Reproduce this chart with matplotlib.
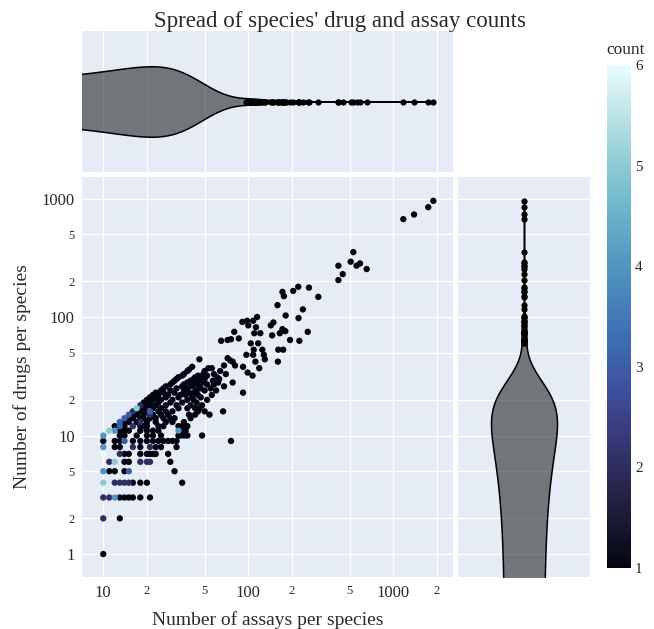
import numpy as np
import matplotlib
matplotlib.use("Agg")
import matplotlib.pyplot as plt
from matplotlib.colors import LinearSegmentedColormap, Normalize
from matplotlib.cm import ScalarMappable
from matplotlib.ticker import FixedLocator, FixedFormatter

# ---------------- data ----------------
assays = [
    10,
    10, 13,
    10, 11, 12, 13, 14, 15, 16, 18, 21,
    10, 12, 13, 14, 15, 16, 18, 20, 35,
    10, 11, 12, 14, 15, 31,
    11, 12, 14, 15, 18, 20, 21, 29,
    10, 13, 14, 15, 18, 20, 21, 22, 23, 28,
    10, 12, 13, 16, 18, 21, 23, 25, 32,
    10, 12, 13, 14, 16, 18, 20, 22, 24, 26, 28, 30, 32, 76,
    10, 13, 14, 17, 20, 22, 25, 33, 34, 36, 38, 48,
    11, 12, 13, 14, 15, 18, 20, 22, 24, 33, 35, 37,
    12, 13, 14, 16, 18, 19, 20, 24, 26, 33, 35, 38,
    13, 14, 15, 17, 18, 20, 23, 27, 30, 36,
    14, 15, 16, 18, 19, 21, 23, 26, 29, 31, 40,
    15, 16, 17, 19, 21, 22, 25, 28, 39, 43, 54,
    16, 17, 18, 20, 21, 24, 27, 30, 45, 50, 67,
    17, 18, 19, 22, 25, 33, 38, 43, 46,
    18, 19, 20, 21, 23, 27, 32, 40, 48,
    19, 21, 24, 29, 35, 44,
    20, 22, 25, 30, 38, 42, 52,
    21, 23, 27, 33, 41, 47,
    22, 24, 28, 34, 37, 45, 56,
    23, 26, 31, 39, 42, 92,
    25, 29, 36, 44, 50, 60,
    26, 32, 38, 47, 55,
    27, 35, 41, 46, 68,
    29, 36, 43, 52, 58,
    30, 38, 49, 62, 78,
    31, 40, 45, 57,
    32, 42, 50, 63,
    33, 43, 48, 61,
    35, 45, 52, 107,
    36, 49, 58, 70,
    99, 38, 50, 64,
    39, 53, 56, 119, 41, 92, 68, 81, 78, 112, 160, 75, 46, 130, 72,
    97, 108, 128, 109, 125, 161, 174, 104, 117, 65, 225, 72, 194, 76, 86,
    146, 110, 121, 165, 80, 257, 180, 172, 113, 100, 143, 149, 91, 98, 108,
    222, 115, 181, 238, 159, 304, 176, 172, 204, 262, 221,
    418, 448, 655, 418, 558, 589, 508, 530,
    1172, 1390, 1742, 1888,
]
drugs = [
    1,
    2, 2,
    3, 3, 3, 3, 3, 3, 3, 3, 3,
    4, 4, 4, 4, 4, 4, 4, 4, 4,
    5, 5, 5, 5, 5, 5,
    6, 6, 6, 6, 6, 6, 6, 6,
    7, 7, 7, 7, 7, 7, 7, 7, 7, 7,
    8, 8, 8, 8, 8, 8, 8, 8, 8,
    9, 9, 9, 9, 9, 9, 9, 9, 9, 9, 9, 9, 9, 9,
    10, 10, 10, 10, 10, 10, 10, 10, 10, 10, 10, 10,
    11, 11, 11, 11, 11, 11, 11, 11, 11, 11, 11, 11,
    12, 12, 12, 12, 12, 12, 12, 12, 12, 12, 12, 12,
    13, 13, 13, 13, 13, 13, 13, 13, 13, 13,
    14, 14, 14, 14, 14, 14, 14, 14, 14, 14, 14,
    15, 15, 15, 15, 15, 15, 15, 15, 15, 15, 15,
    16, 16, 16, 16, 16, 16, 16, 16, 16, 16, 16,
    17, 17, 17, 17, 17, 17, 17, 17, 17,
    18, 18, 18, 18, 18, 18, 18, 18, 18,
    19, 19, 19, 19, 19, 19,
    20, 20, 20, 20, 20, 20, 20,
    21, 21, 21, 21, 21, 21,
    22, 22, 22, 22, 22, 22, 22,
    23, 23, 23, 23, 23, 23,
    24, 24, 24, 24, 24, 24,
    25, 25, 25, 25, 25,
    26, 26, 26, 26, 26,
    27, 27, 27, 27, 27,
    28, 28, 28, 28, 28,
    29, 29, 29, 29,
    30, 30, 30, 30,
    31, 31, 31, 31,
    32, 32, 32, 32,
    33, 33, 33, 33,
    34, 35, 35, 35,
    36, 37, 37, 37, 38, 38, 39, 39, 42, 42, 42, 43, 44, 44, 45,
    48, 48, 48, 53, 53, 53, 53, 60, 60, 63, 63, 64, 64, 65, 66,
    70, 73, 73, 73, 75, 75, 76, 79, 82, 85, 85, 90, 91, 93, 93,
    98, 100, 103, 116, 126, 148, 150, 163, 166, 177, 180,
    205, 230, 254, 271, 271, 283, 293, 353,
    670, 733, 845, 956,
]
counts = [
    1,
    2, 1,
    2, 2, 4, 1, 1, 1, 1, 1, 1,
    5, 2, 2, 2, 2, 1, 1, 1, 1,
    4, 1, 1, 1, 3, 1,
    2, 5, 1, 1, 2, 2, 2, 1,
    6, 2, 1, 1, 1, 1, 1, 1, 1, 1,
    4, 1, 1, 2, 1, 2, 1, 1, 1,
    1, 1, 1, 3, 1, 1, 1, 1, 1, 1, 1, 1, 1, 1,
    4, 1, 1, 1, 1, 1, 1, 1, 1, 1, 1, 1,
    5, 4, 1, 1, 1, 1, 1, 1, 1, 4, 1, 1,
    1, 3, 1, 2, 1, 1, 1, 1, 1, 1, 1, 1,
    3, 1, 1, 1, 2, 1, 1, 1, 1, 1,
    3, 1, 1, 1, 1, 1, 1, 1, 1, 1, 1,
    3, 1, 1, 1, 2, 1, 1, 1, 1, 1, 1,
    2, 1, 1, 1, 3, 1, 1, 1, 1, 1, 1,
    5, 1, 1, 1, 1, 1, 1, 1, 1,
    2, 1, 1, 1, 1, 1, 1, 1, 1,
    1, 1, 1, 1, 1, 1,
    1, 1, 1, 1, 1, 1, 1,
    1, 1, 1, 1, 1, 1,
    1, 1, 1, 1, 1, 1, 1,
    1, 1, 1, 1, 1, 1,
    1, 1, 1, 1, 1, 1,
    1, 1, 1, 1, 1,
    1, 1, 1, 1, 1,
    1, 1, 1, 1, 1,
    1, 1, 1, 1, 1,
    1, 1, 1, 1,
    1, 1, 1, 1,
    1, 1, 1, 1,
    1, 1, 1, 1,
    1, 1, 1, 1,
    1, 1, 1, 1,
    1, 1, 1, 1, 1, 1, 1, 1, 1, 1, 1, 1, 1, 1, 1,
    1, 1, 1, 1, 1, 1, 1, 1, 1, 1, 1, 1, 1, 1, 1,
    1, 1, 1, 1, 1, 1, 1, 1, 1, 1, 1, 1, 1, 1, 1,
    1, 1, 1, 1, 1, 1, 1, 1, 1, 1, 1,
    1, 1, 1, 1, 1, 1, 1, 1,
    1, 1, 1, 1,
]

x_major = [10, 100, 1000]
x_major_labels = ["10", "100", "1000"]
x_minor = [20, 50, 200, 500, 2000]
x_minor_labels = ["2", "5", "2", "5", "2"]
y_major = [1, 10, 100, 1000]
y_major_labels = ["1", "10", "100", "1000"]
y_minor = [2, 5, 20, 50, 200, 500]
y_minor_labels = ["2", "5", "2", "5", "2", "5"]

ice_colors = ["#030512", "#191933", "#2c2a57", "#3a3c7d", "#3e53a0", "#3e6db2",
              "#4886bb", "#599fc4", "#72b8cd", "#95cfd8", "#c0e5e8", "#eafcfd"]

title = "Spread of species' drug and assay counts"
xlabel = "Number of assays per species"
ylabel = "Number of drugs per species"

# ---------------- style ----------------
FONT = ["Liberation Serif", "DejaVu Serif"]
TXT = "#2a2a2a"
BG = "#E5ECF6"
plt.rcParams["font.family"] = FONT

assays_a = np.array(assays, float)
drugs_a = np.array(drugs, float)
counts_a = np.array(counts, float)
assert len(assays_a) == len(drugs_a) == len(counts_a)

W, H = 654, 629
fig = plt.figure(figsize=(W / 100, H / 100), dpi=100)

def frac(x0, y0, x1, y1):
    return [x0 / W, 1 - y1 / H, (x1 - x0) / W, (y1 - y0) / H]

ax = fig.add_axes(frac(81.7, 177.3, 453, 576.7))
axt = fig.add_axes(frac(81.7, 31, 453, 172))
axr = fig.add_axes(frac(458, 177.3, 590, 576.7))
cax = fig.add_axes(frac(607, 65, 631, 568))

xlim = (7.1, 2580)
ylim = (0.644, 1510)

cmap = LinearSegmentedColormap.from_list("ice", ice_colors)
norm = Normalize(vmin=1, vmax=6)

for a in (ax, axt, axr):
    a.set_facecolor(BG)
    for s in a.spines.values():
        s.set_visible(False)

# main scatter
order = np.argsort(counts_a, kind="stable")
ax.scatter(assays_a[order], drugs_a[order], c=counts_a[order], cmap=cmap, norm=norm,
           s=21, linewidths=0, zorder=3)
ax.set_xscale("log")
ax.set_yscale("log")
ax.set_xlim(*xlim)
ax.set_ylim(*ylim)

def set_log_ticks(axis, majors, mlabels, minors, nlabels, show):
    axis.set_major_locator(FixedLocator(majors))
    axis.set_minor_locator(FixedLocator(minors))
    if show:
        axis.set_major_formatter(FixedFormatter(mlabels))
        axis.set_minor_formatter(FixedFormatter(nlabels))
    else:
        axis.set_major_formatter(FixedFormatter([""] * len(majors)))
        axis.set_minor_formatter(FixedFormatter([""] * len(minors)))

set_log_ticks(ax.xaxis, x_major, x_major_labels, x_minor, x_minor_labels, True)
set_log_ticks(ax.yaxis, y_major, y_major_labels, y_minor, y_minor_labels, True)
ax.tick_params(which="both", length=0, colors=TXT)
ax.tick_params(axis="x", which="major", labelsize=12, pad=6)
ax.tick_params(axis="x", which="minor", labelsize=9, pad=6)
ax.tick_params(axis="y", which="major", labelsize=12, pad=5)
ax.tick_params(axis="y", which="minor", labelsize=9, pad=5)
ax.grid(True, which="both", color="white", linewidth=1.0, zorder=0)
ax.set_axisbelow(True)
fig.text(22 / W, 1 - 377 / H, ylabel, ha="center", va="center", rotation=90,
         fontsize=14, color=TXT)
fig.text(268 / W, 1 - 620 / H, xlabel, ha="center", va="center", fontsize=14, color=TXT)

# violins (Gaussian KDE, widened bandwidth to match the reference shape)
BW_SCALE = 2.3

def violin_shape(values, lo_limit):
    v = np.asarray(values, float)
    n = v.size
    q1, q3 = np.percentile(v, [25, 75])
    iqr = q3 - q1
    bw = BW_SCALE * 1.059 * min(v.std(ddof=1), iqr / 1.349) * n ** -0.2
    lo = v.min() - 2 * bw
    hi = v.max() + 2 * bw
    if lo <= 0:
        lo = lo_limit
    grid = np.geomspace(lo, hi, 4000)
    dens = np.exp(-0.5 * ((grid[:, None] - v[None, :]) / bw) ** 2).sum(axis=1)
    dens = dens / dens.max()
    out = v[(v > q3 + 1.5 * iqr) | (v < q1 - 1.5 * iqr)]
    return grid, 0.5 * dens, out

exp_assays = np.repeat(assays_a, counts_a.astype(int))
exp_drugs = np.repeat(drugs_a, counts_a.astype(int))

g, hw, out = violin_shape(exp_assays, xlim[0] * 0.5)
axt.fill_between(g, -hw, hw, facecolor=(0, 0, 0, 0.5), edgecolor="black", linewidth=1.1, zorder=2)
axt.scatter(out, np.zeros_like(out), color="black", s=20, linewidths=0, zorder=3)
axt.set_xscale("log")
axt.set_xlim(*xlim)
axt.set_ylim(-1, 1)
set_log_ticks(axt.xaxis, x_major, x_major_labels, x_minor, x_minor_labels, False)
axt.set_yticks([])
axt.tick_params(which="both", length=0)
axt.grid(True, axis="x", which="both", color="white", linewidth=1.0, zorder=0)
axt.set_axisbelow(True)

g, hw, out = violin_shape(exp_drugs, ylim[0] * 0.5)
axr.fill_betweenx(g, -hw, hw, facecolor=(0, 0, 0, 0.5), edgecolor="black", linewidth=1.1, zorder=2)
axr.scatter(np.zeros_like(out), out, color="black", s=20, linewidths=0, zorder=3)
axr.set_yscale("log")
axr.set_ylim(*ylim)
axr.set_xlim(-1, 1)
set_log_ticks(axr.yaxis, y_major, y_major_labels, y_minor, y_minor_labels, False)
axr.set_xticks([])
axr.tick_params(which="both", length=0)
axr.grid(True, axis="y", which="both", color="white", linewidth=1.0, zorder=0)
axr.set_axisbelow(True)

# colorbar
cb = fig.colorbar(ScalarMappable(norm=norm, cmap=cmap), cax=cax)
cb.outline.set_visible(False)
cb.set_ticks([1, 2, 3, 4, 5, 6])
cb.ax.tick_params(length=0, labelsize=11, colors=TXT, pad=3)
fig.text(606 / W, 1 - 50 / H, "count", ha="left", va="center", fontsize=12.5, color=TXT)

fig.text(340 / W, 1 - 22 / H, title, ha="center", va="center", fontsize=16.5, color=TXT)

fig.savefig("out.png", dpi=100)
